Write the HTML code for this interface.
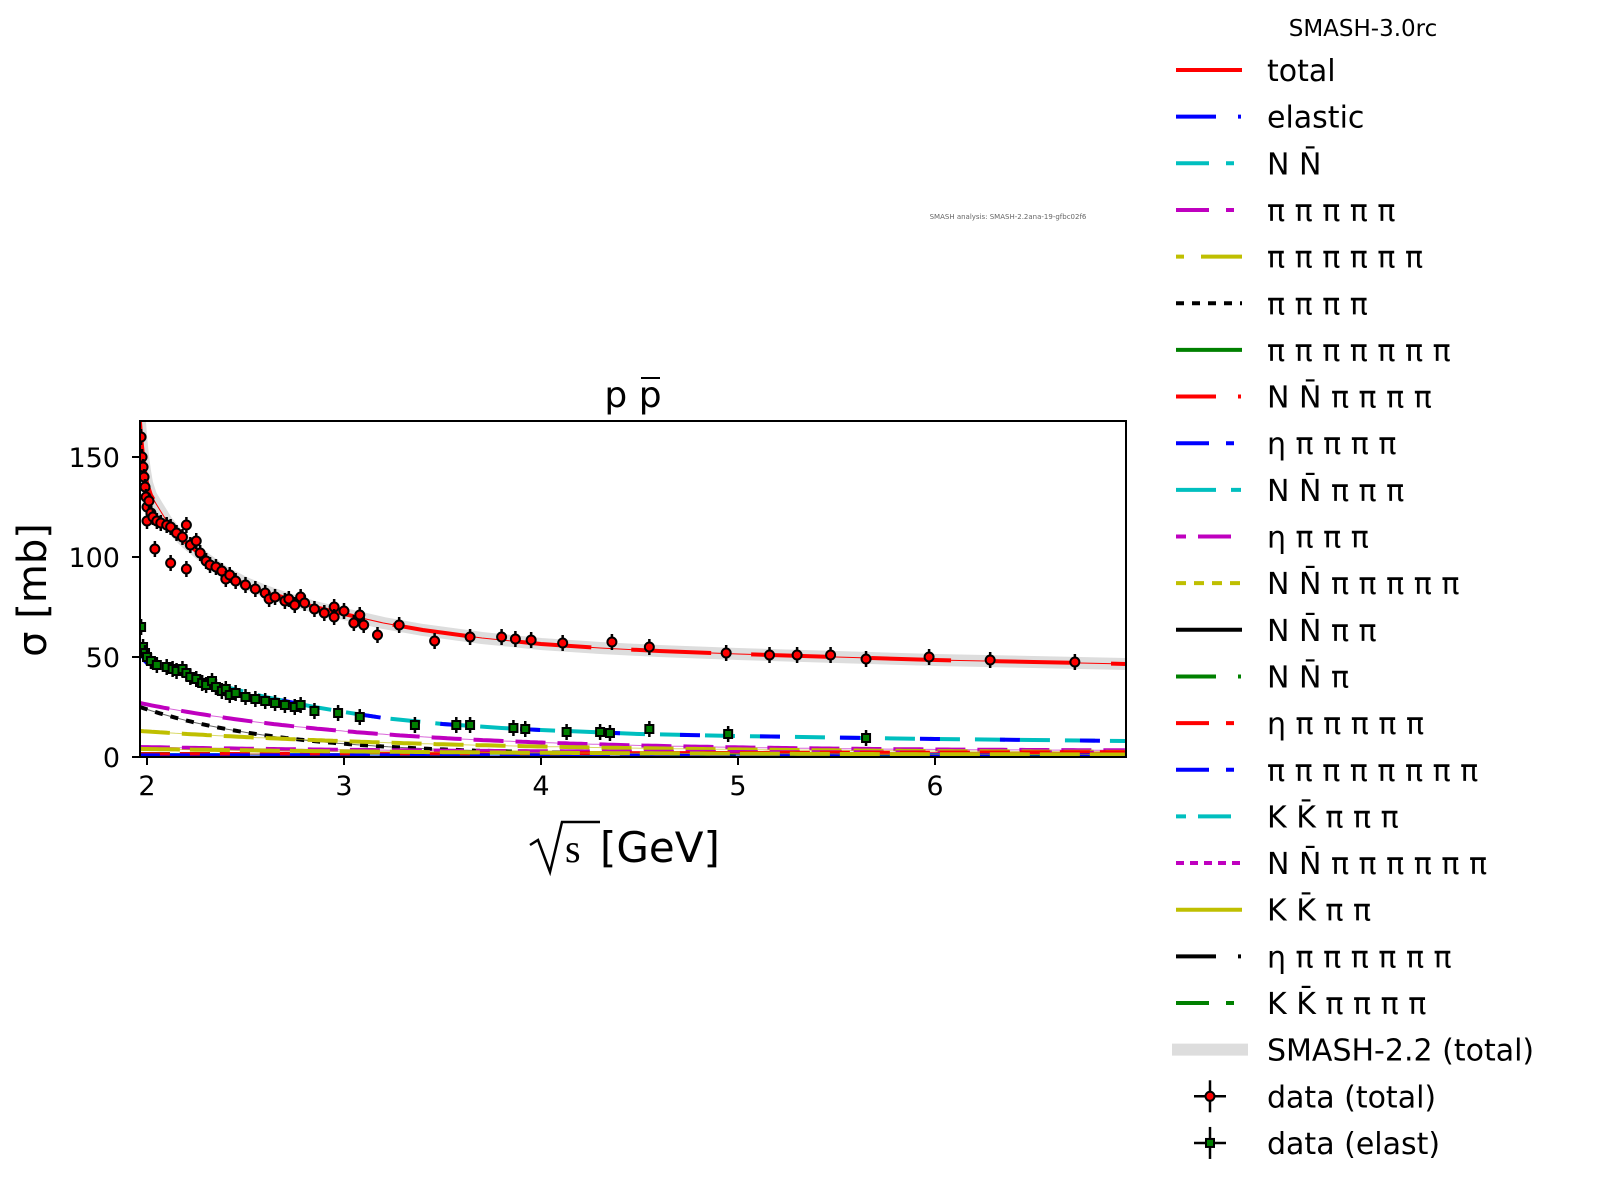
<!DOCTYPE html>
<html><head><meta charset="utf-8"><style>
html,body{margin:0;padding:0;background:#fff;}
svg{display:block;font-family:"DejaVu Sans","Liberation Sans",sans-serif;}
</style></head><body>
<svg id="s" width="1600" height="1204" viewBox="0 0 1600 1204" xmlns="http://www.w3.org/2000/svg">
<rect width="1600" height="1204" fill="#fff"/>
<g id="plot"></g>
<rect x="140" y="421" width="986" height="336" fill="none" stroke="#000" stroke-width="2"/>
<g stroke="#000" stroke-width="2">
<line x1="147" y1="757" x2="147" y2="765"/><line x1="344" y1="757" x2="344" y2="765"/><line x1="541" y1="757" x2="541" y2="765"/><line x1="738" y1="757" x2="738" y2="765"/><line x1="935" y1="757" x2="935" y2="765"/>
<line x1="132" y1="757" x2="140" y2="757"/><line x1="132" y1="657" x2="140" y2="657"/><line x1="132" y1="557" x2="140" y2="557"/><line x1="132" y1="457" x2="140" y2="457"/>
</g>
<g font-size="27" fill="#000" text-anchor="middle">
<text x="147" y="795">2</text><text x="344" y="795">3</text><text x="541" y="795">4</text><text x="738" y="795">5</text><text x="935" y="795">6</text>
</g>
<g font-size="27" fill="#000" text-anchor="end">
<text x="120" y="767">0</text><text x="120" y="667">50</text><text x="120" y="567">100</text><text x="120" y="467">150</text>
</g>
<text x="633" y="407" font-size="36" text-anchor="middle">p p</text>
<line x1="641" y1="378" x2="660" y2="378" stroke="#000" stroke-width="2"/>
<text x="46" y="590" font-size="40" text-anchor="middle" transform="rotate(-90 46 590)">σ [mb]</text>
<path d="M530 845 L538 840 L550 872 L562 822 L600 822" fill="none" stroke="#000" stroke-width="2.5"/>
<text x="565" y="862" font-size="40" font-family="Liberation Serif,serif">s</text>
<text x="600" y="862" font-size="42">[GeV]</text>
<text x="1008" y="219" font-size="7" fill="#666" text-anchor="middle">SMASH analysis: SMASH-2.2ana-19-gfbc02f6</text>
<text x="1363" y="36" font-size="23" text-anchor="middle">SMASH-3.0rc</text>
<g id="leg" font-size="30" fill="#000"></g>
<script>
var NS="http://www.w3.org/2000/svg";
function px(x){return 147+197*(x-2);}function py(v){return 757-2*v;}
function el(p,t,a){var e=document.createElementNS(NS,t);for(var k in a)e.setAttribute(k,a[k]);p.appendChild(e);return e;}
var P=document.getElementById("plot");
var cp=el(P,"clipPath",{id:"c"});el(cp,"rect",{x:140,y:421,width:986,height:336});
var G=el(P,"g",{"clip-path":"url(#c)"});
function pts(a){return a.map(function(p,i){return (i?"L":"M")+px(p[0]).toFixed(1)+" "+py(p[1]).toFixed(1);}).join("");}
var TOT=[[1.964,168],[1.97,160],[1.98,150],[1.99,143],[2.0,137],[2.02,131],[2.05,126],[2.1,118],[2.15,112],[2.2,107],[2.3,99],[2.4,92],[2.5,87],[2.6,83],[2.7,79.5],[2.85,75],[3.0,71.5],[3.2,67],[3.4,63.5],[3.7,59.5],[4,56.5],[4.3,54.5],[4.6,53],[5,51.5],[5.5,50],[6,48.5],[6.5,47.5],[6.97,46.5]];
var EL=[[1.964,56],[1.975,51],[1.99,48],[2.0,47],[2.05,45.5],[2.1,44],[2.2,41],[2.3,38],[2.4,35],[2.5,32.5],[2.6,30],[2.7,28],[2.85,25],[3,22.5],[3.2,19.5],[3.5,16.5],[3.8,14.5],[4,13.5],[4.5,11.5],[5,10.5],[5.5,9.7],[6,9],[6.5,8.5],[6.97,8]];
function fcurve(f){var a=[];for(var x=1.964;x<=6.98;x+=0.02)a.push([x,f(x)]);return pts(a);}
el(G,"path",{d:pts(TOT),fill:"none",stroke:"#ddd","stroke-width":12});
var sm=[["#bf00bf",function(x){return 3+24*Math.exp(-(x-1.964)*0.85);},"30,12"],
["#000",function(x){return 1+24*Math.exp(-(x-1.964)*1.4);},"8,8"],
["#bfbf00",function(x){return 2+11*Math.exp(-(x-1.964)*0.6);},"30,12"],
["#bf00bf",function(x){return 2+3*Math.exp(-(x-1.964)*0.6);},"30,12"],
["#008000",function(x){return 1.5;},"30,10"],["#00bfbf",function(x){return 1;},"20,10"],
["#f00",function(x){return 1+x*0.2;},"30,10"],["#00f",function(x){return 0.8;},"20,10"],
["#bfbf00",function(x){return 3*Math.exp(-(x-2)*0.5)+1;},"40,10"]];
sm.forEach(function(c){el(G,"path",{d:fcurve(c[1]),fill:"none",stroke:c[0],"stroke-width":1,opacity:0.6});
el(G,"path",{d:fcurve(c[1]),fill:"none",stroke:c[0],"stroke-width":4,"stroke-dasharray":c[2]});});
el(G,"path",{d:pts(EL),fill:"none",stroke:"#00bfbf","stroke-width":4,"stroke-dasharray":"30,15"});
el(G,"path",{d:pts(EL),fill:"none",stroke:"#00f","stroke-width":4,"stroke-dasharray":"20,60"});
el(G,"path",{d:pts(TOT),fill:"none",stroke:"#f00","stroke-width":1});
el(G,"path",{d:pts(TOT),fill:"none",stroke:"#f00","stroke-width":4,"stroke-dasharray":"80,40"});
var R=[[1.97,160],[1.975,150],[1.98,145],[1.985,140],[1.99,135],[1.995,130],[2.0,125],[2.0,118],[2.01,128],[2.02,122],[2.03,120],[2.04,104],[2.05,118],[2.07,117],[2.1,116],[2.12,97],[2.12,115],[2.15,112],[2.18,110],[2.2,116],[2.2,94],[2.22,106],[2.25,108],[2.27,102],[2.3,98],[2.32,96],[2.35,95],[2.38,93],[2.4,89],[2.42,91],[2.45,88],[2.5,86],[2.55,84],[2.6,82],[2.62,79],[2.65,80],[2.7,78],[2.72,79],[2.75,76],[2.78,80],[2.8,77],[2.85,74],[2.9,72],[2.95,75],[2.95,70],[3.0,73],[3.05,67],[3.08,71],[3.1,66],[3.17,61],[3.28,66],[3.46,58],[3.64,60],[3.8,60],[3.87,59],[3.95,58.5],[4.11,57],[4.36,57.5],[4.55,55],[4.94,52],[5.16,51],[5.3,51],[5.47,51],[5.65,49],[5.97,50],[6.28,48.5],[6.71,47.5]];
R.forEach(function(p){var x=px(p[0]),y=py(p[1]);el(G,"line",{x1:x,y1:y-8,x2:x,y2:y+8,stroke:"#000","stroke-width":2.5});el(G,"circle",{cx:x,cy:y,r:4.5,fill:"#f00",stroke:"#000","stroke-width":2});});
var Q=[[1.97,65],[1.98,55],[1.99,52],[2.0,50],[2.02,48],[2.05,46],[2.1,45],[2.13,44],[2.15,43],[2.18,44],[2.2,42],[2.22,40],[2.25,39],[2.28,37],[2.3,36],[2.33,38],[2.35,35],[2.38,33],[2.4,34],[2.42,31],[2.45,32],[2.5,30],[2.55,29],[2.6,28],[2.65,27],[2.7,26],[2.75,25],[2.78,26],[2.85,23],[2.97,22],[3.08,20],[3.36,16],[3.57,16],[3.64,16],[3.86,14.5],[3.92,14],[4.13,12.5],[4.3,12.5],[4.35,12],[4.55,14],[4.95,11.5],[5.65,9.5]];
Q.forEach(function(p){var x=px(p[0]),y=py(p[1]);el(G,"line",{x1:x,y1:y-8,x2:x,y2:y+8,stroke:"#000","stroke-width":2.5});el(G,"rect",{x:x-4,y:y-4,width:8,height:8,fill:"#008000",stroke:"#000","stroke-width":2});});
var L=[["#f00","none","total"],["#00f","40,22,3,22","elastic"],["#00bfbf","33,17,8,17","N N̄"],["#bf00bf","33,17,8,17","π π π π π"],["#bfbf00","8,17,33,0","π π π π π π"],["#000","8,8","π π π π"],["#008000","none","π π π π π π π"],["#f00","40,22,3,22","N N̄ π π π π"],["#00f","33,17,8,17","η π π π π"],["#00bfbf","40,15,10,15","N N̄ π π π"],["#bf00bf","10,12,33,12","η π π π"],["#bfbf00","10,8","N N̄ π π π π π"],["#000","none","N N̄ π π"],["#008000","40,22,3,22","N N̄ π"],["#f00","33,17,8,17","η π π π π π"],["#00f","33,17,8,17","π π π π π π π π"],["#00bfbf","10,12,33,12","K K̄ π π π"],["#bf00bf","8,6","N N̄ π π π π π π"],["#bfbf00","none","K K̄ π π"],["#000","40,22,3,22","η π π π π π π"],["#008000","33,17,8,17","K K̄ π π π π"]];
var LG=document.getElementById("leg");
L.forEach(function(e,i){var y=70+46.65*i;var a={x1:1176,y1:y,x2:1242,y2:y,stroke:e[0],"stroke-width":4};if(e[1]!="none")a["stroke-dasharray"]=e[1];el(LG,"line",a);var t=el(LG,"text",{x:1267,y:y+11});t.textContent=e[2];});
var y=70+46.65*21;el(LG,"line",{x1:1172,y1:y,x2:1248,y2:y,stroke:"#ddd","stroke-width":12});var t=el(LG,"text",{x:1267,y:y+11});t.textContent="SMASH-2.2 (total)";
[["#f00","data (total)"],["#008000","data (elast)"]].forEach(function(d,k){var y=70+46.65*(22+k);el(LG,"line",{x1:1194,y1:y,x2:1226,y2:y,stroke:"#000","stroke-width":2.5});el(LG,"line",{x1:1210,y1:y-16,x2:1210,y2:y+16,stroke:"#000","stroke-width":2.5});
if(k==0)el(LG,"circle",{cx:1210,cy:y,r:4.5,fill:d[0],stroke:"#000","stroke-width":2});else el(LG,"rect",{x:1206,y:y-4,width:8,height:8,fill:d[0],stroke:"#000","stroke-width":2});
var t=el(LG,"text",{x:1267,y:y+11});t.textContent=d[1];});
</script>
</svg>
</body></html>
